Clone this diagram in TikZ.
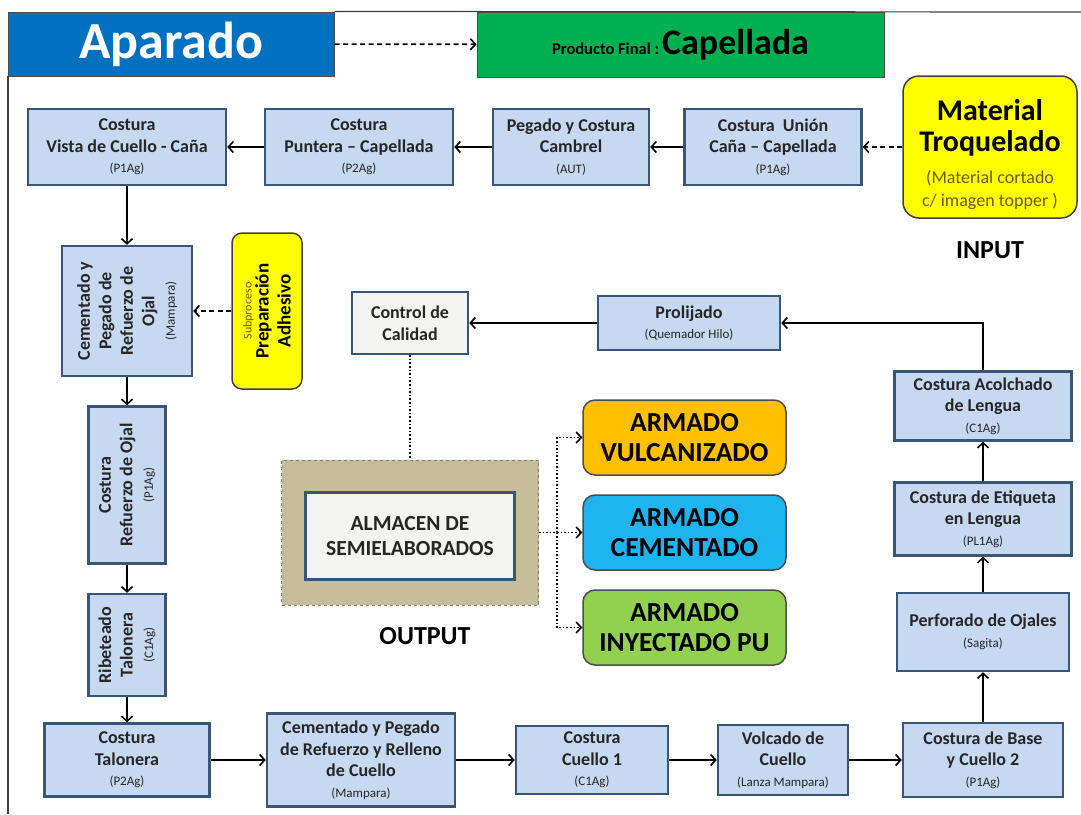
\documentclass[tikz,border=0pt]{standalone}
\usepackage{fontspec}
\setmainfont{Carlito}
\usetikzlibrary{arrows.meta}

\definecolor{aparadoblue}{HTML}{0070C0}
\definecolor{finalgreen}{HTML}{00B050}
\definecolor{procfill}{HTML}{C6D9F1}
\definecolor{procline}{HTML}{3A5677}
\definecolor{offwhite}{HTML}{F3F3F1}
\definecolor{inputyellow}{HTML}{FFFF00}
\definecolor{subtxt}{HTML}{6B5A1E}
\definecolor{tanbox}{HTML}{C4BD97}
\definecolor{vulcorange}{HTML}{FFC000}
\definecolor{cemblue}{HTML}{1CB5F0}
\definecolor{inygreen}{HTML}{92D050}

\newcommand{\maq}[1]{\\[-1pt]{\normalfont\fontsize{13}{15}\selectfont(#1)}}
\newcommand{\subt}[1]{{\normalfont\color{subtxt}\fontsize{18}{21}\selectfont #1}}

\tikzset{
  proc/.style={draw=procline, line width=2.5pt, fill=procfill, align=center,
    text=black!85, inner sep=2pt, font=\bfseries\fontsize{18}{21.5}\selectfont},
  greybox/.style={proc, fill=offwhite},
  armado/.style={draw=black!70, line width=1.5pt, rounded corners=12pt, align=center,
    minimum width=203pt, minimum height=75pt, font=\bfseries\fontsize{27.5}{30}\selectfont},
  inbox/.style={draw=black!75, line width=1.5pt, fill=inputyellow, rounded corners=16pt, align=center},
  arr/.style={-{Straight Barb[length=5pt,width=11pt]}, line width=1.6pt},
  dasharr/.style={arr, dash pattern=on 5pt off 3.5pt},
  dotarr/.style={arr, dotted},
}

\begin{document}
\begin{tikzpicture}[x=1pt, y=-1pt]
  \useasboundingbox (0,0) rectangle (1081,814);

  % titulo
  \node (1) [draw=black!70, line width=1pt, fill=aparadoblue, minimum width=326pt, minimum height=64pt,
    text=white, font=\bfseries\fontsize{52}{54}\selectfont] at (171,44) {Aparado};
  \node (2) [draw=black!70, line width=1pt, fill=finalgreen, minimum width=407pt, minimum height=65pt]
    at (680.5,44.5) {{\bfseries\fontsize{16.5}{18}\selectfont Producto Final :} {\bfseries\fontsize{36}{38}\selectfont Capellada}};
  \draw [black!75, line width=1.2pt] (1.north east) -- (1081,12);
  \draw [black!75, line width=1.2pt] (8,76) -- (8,814);
  \draw [dasharr] (1) to (2);

  % input
  \node (3) [inbox, minimum width=174pt, minimum height=142pt, font=\bfseries\fontsize{30}{31}\selectfont]
    at (990,147) {{}\\[5pt]Material\\Troquelado\\[1pt]\subt{(Material cortado}\\[-8pt]\subt{c/ imagen topper )}};
  \node (28) [font=\bfseries\fontsize{26}{28}\selectfont] at (990,250) {INPUT};

  % fila superior
  \node (4) [proc, minimum width=177pt, minimum height=76pt, node distance=217pt, left of=3]
    {Costura~ Unión\\Caña -- Capellada\maq{P1Ag}};
  \node (5) [proc, minimum width=156pt, minimum height=76pt, node distance=202pt, left of=4]
    {Pegado y Costura\\Cambrel\maq{AUT}};
  \node (6) [proc, minimum width=188pt, minimum height=76pt, node distance=212pt, left of=5]
    {Costura\\Puntera -- Capellada\maq{P2Ag}};
  \node (7) [proc, minimum width=198pt, minimum height=76pt, node distance=232pt, left of=6]
    {Costura\\Vista de Cuello - Caña\maq{P1Ag}};

  % columna izquierda (rotados)
  \node (8) [proc, rotate=90, minimum width=130pt, minimum height=130pt] at (127,311)
    {Cementado y\\Pegado de\\Refuerzo de\\Ojal\maq{Mampara}};
  \node (9) [inbox, rotate=90, rounded corners=10pt, minimum width=156pt, minimum height=70pt,
    font=\bfseries\fontsize{19}{22}\selectfont] at (267,311)
    {{\normalfont\color{subtxt}\fontsize{12}{14}\selectfont Subproceso}\\[-5pt]Preparación\\Adhesivo};
  \node (10) [proc, rotate=90, minimum width=157pt, minimum height=77pt] at (127,485)
    {Costura\\Refuerzo de Ojal\maq{P1Ag}};
  \node (11) [proc, rotate=90, minimum width=102pt, minimum height=77pt] at (127,645)
    {Ribeteado\\Talonera\maq{C1Ag}};
  \node (12) [proc, minimum width=165pt, minimum height=73pt, node distance=115pt, below of=11]
    {Costura\\Talonera\maq{P2Ag}};

  % fila inferior
  \node (13) [proc, minimum width=188pt, minimum height=93pt, node distance=234pt, right of=12]
    {Cementado y Pegado\\de Refuerzo y Relleno\\de Cuello\maq{Mampara}};
  \node (14) [proc, minimum width=152pt, minimum height=68pt, node distance=231pt, right of=13]
    {Costura\\Cuello 1\maq{C1Ag}};
  \node (15) [proc, minimum width=130pt, minimum height=70pt, node distance=191pt, right of=14]
    {Volcado de\\Cuello\maq{Lanza Mampara}};
  \node (16) [proc, minimum width=160pt, minimum height=74pt, node distance=200pt, right of=15]
    {Costura de Base\\y Cuello 2\maq{P1Ag}};

  % columna derecha
  \node (17) [proc, minimum width=172pt, minimum height=78pt, node distance=128pt, above of=16]
    {Perforado de Ojales\maq{Sagita}};
  \node (18) [proc, minimum width=177pt, minimum height=73pt, node distance=113pt, above of=17]
    {Costura de Etiqueta\\en Lengua\maq{PL1Ag}};
  \node (19) [proc, minimum width=177pt, minimum height=69pt, node distance=113pt, above of=18]
    {Costura Acolchado\\de Lengua\maq{C1Ag}};

  % centro
  \node (20) [proc, minimum width=182pt, minimum height=54pt] at (689,323)
    {Prolijado\maq{Quemador Hilo}};
  \node (21) [greybox, minimum width=116pt, minimum height=62pt, node distance=279pt, left of=20]
    {Control de\\Calidad};
  \node (22) [draw=black!50, dashed, line width=1pt, fill=tanbox, minimum width=257pt, minimum height=145pt]
    at (410,532.5) {};
  \node (23) [greybox, minimum width=209pt, minimum height=87pt, font=\bfseries\fontsize{21.5}{25}\selectfont]
    at (410,536) {ALMACEN DE\\SEMIELABORADOS};
  \node (29) [font=\bfseries\fontsize{26}{28}\selectfont] at (425,636) {OUTPUT};

  % output
  \node (24) [armado, fill=cemblue, node distance=274.5pt, right of=22] {ARMADO\\CEMENTADO};
  \node (25) [armado, fill=vulcorange, node distance=95pt, above of=24] {ARMADO\\VULCANIZADO};
  \node (26) [armado, fill=inygreen, node distance=95pt, below of=24] {ARMADO\\INYECTADO PU};
  \coordinate (27) at (557,532.5);

  \draw [dasharr] (3) to (4);
  \draw [arr] (4) to (5);
  \draw [arr] (5) to (6);
  \draw [arr] (6) to (7);

  \draw [arr] (7) to (8);
  \draw [dasharr] (9) to (8);
  \draw [arr] (8) to (10);
  \draw [arr] (10) to (11);
  \draw [arr] (11) to (12);

  \draw [arr] (12) to (13);
  \draw [arr] (13) to (14);
  \draw [arr] (14) to (15);
  \draw [arr] (15) to (16);

  \draw [arr] (16) to (17);
  \draw [arr] (17) to (18);
  \draw [arr] (18) to (19);
  \draw [arr] (19) |- (20);
  \draw [arr] (20) to (21);

  \draw [dotted, line width=1.6pt] (21) to (22);
  \draw [dotarr] (22) to (24);
  \draw [dotarr] (22.east) -- (27) |- (25);
  \draw [dotarr] (27) |- (26);
\end{tikzpicture}
\end{document}
